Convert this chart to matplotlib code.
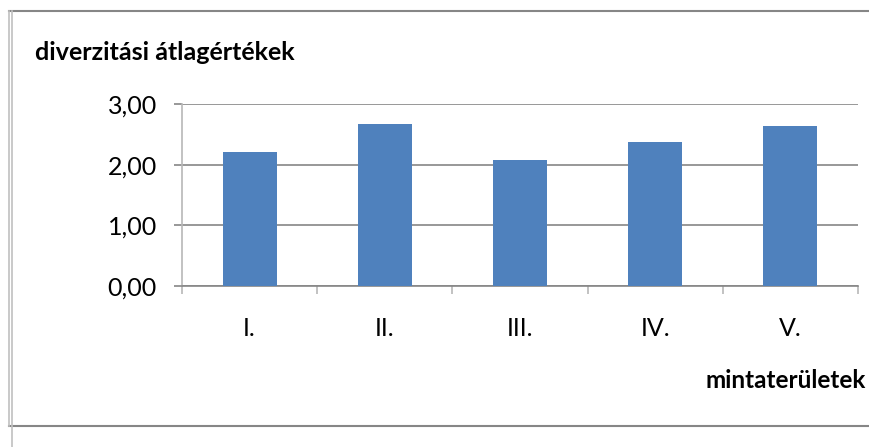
import matplotlib
matplotlib.use("Agg")
import matplotlib.pyplot as plt
from matplotlib.lines import Line2D

categories = ["I.", "II.", "III.", "IV.", "V."]
values = [2.21, 2.67, 2.08, 2.38, 2.64]
yticks = [0, 1, 2, 3]
ytick_labels = ["0,00", "1,00", "2,00", "3,00"]
title = "diverzitási átlagértékek"
xlabel = "mintaterületek"

plt.rcParams['font.family'] = ['Lato', 'DejaVu Sans']

W, H = 870, 447
fig = plt.figure(figsize=(W / 100, H / 100), dpi=100)

def fx(px):
    return px / W

def fy(py):
    return 1 - py / H

# chart frame lines
frame_dark = "#868686"
frame_light = "#c0c0c0"
fig.add_artist(Line2D([fx(9), 1], [fy(10.5), fy(10.5)], color=frame_dark, lw=1.5))
fig.add_artist(Line2D([fx(9), 1], [fy(426), fy(426)], color=frame_dark, lw=1.5))
fig.add_artist(Line2D([fx(9.5), fx(9.5)], [fy(10.5), fy(426)], color=frame_light, lw=1.2))
fig.add_artist(Line2D([fx(12.5), fx(12.5)], [fy(10.5), fy(447)], color=frame_light, lw=1.2))

ax = fig.add_axes([fx(182), fy(286), fx(858) - fx(182), fy(104.3) - fy(286)])
x = list(range(len(categories)))
ax.bar(x, values, width=0.4, color="#4F81BD", zorder=3)
ax.set_xlim(-0.5, len(categories) - 0.5)
ax.set_ylim(0, 3)
ax.set_yticks(yticks)
ax.set_yticklabels(ytick_labels, fontsize=18)
ax.set_xticks(x)
ax.set_xticklabels(categories, fontsize=18)
ax.set_xticks([i - 0.5 for i in range(len(categories) + 1)], minor=True)

for s in ["top", "right"]:
    ax.spines[s].set_visible(False)
ax.spines["left"].set_color("#b8b8b8")
ax.spines["left"].set_linewidth(1.2)
ax.spines["bottom"].set_color("#868686")
ax.spines["bottom"].set_linewidth(1.2)

ax.yaxis.grid(True, color="#868686", lw=1.2, zorder=0)
ax.set_axisbelow(True)
ax.tick_params(axis="y", length=6, color="#868686", width=1.2, pad=12)
ax.tick_params(axis="x", which="major", length=0, pad=22)
ax.tick_params(axis="x", which="minor", length=6, color="#b8b8b8", width=1.2)

fig.text(fx(35), fy(53), title, fontsize=18, fontweight="bold", va="center", ha="left")
fig.text(fx(866), fy(380), xlabel, fontsize=17.5, fontweight="bold", va="center", ha="right")

fig.savefig("out.png", dpi=100)
